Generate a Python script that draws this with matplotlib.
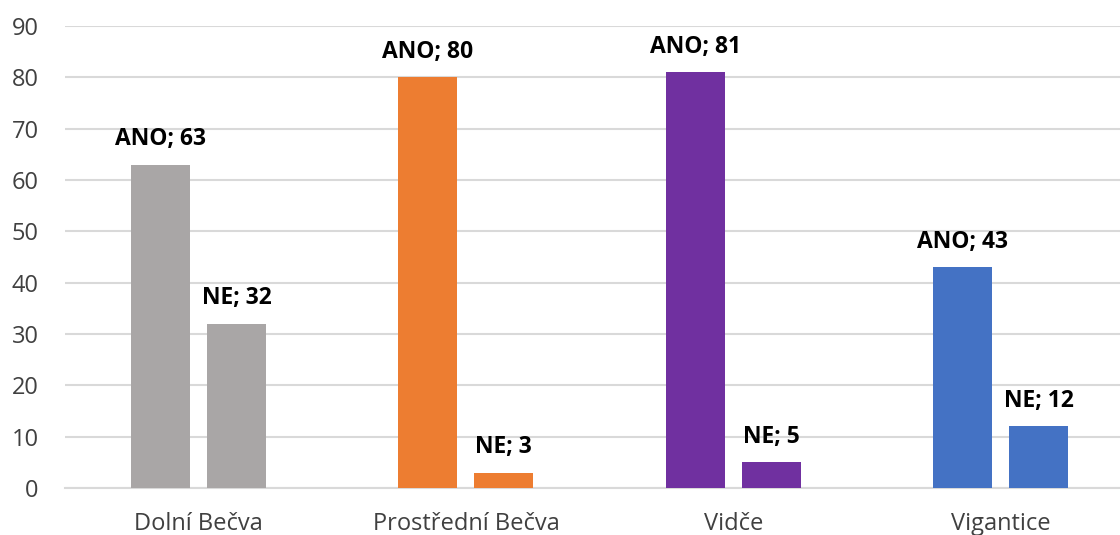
import matplotlib.pyplot as plt
import numpy as np

plt.rcParams['font.family'] = ['Open Sans', 'DejaVu Sans']

obce = ['Dolní Bečva', 'Prostřední Bečva', 'Vidče', 'Vigantice']
ano = [63, 80, 81, 43]
ne = [32, 3, 5, 12]
barvy = ['#A9A6A6', '#ED7D31', '#7030A0', '#4472C4']

fig = plt.figure(figsize=(11.2, 5.35), dpi=100)
ax = fig.add_axes([0.058, 0.0879, 0.942, 0.8636])

x = np.arange(len(obce))
w = 0.221
off = 0.142

b1 = ax.bar(x - off, ano, width=w, color=barvy, zorder=3)
b2 = ax.bar(x + off, ne, width=w, color=barvy, zorder=3)

# popisky nad sloupci
for rect, v in zip(b1, ano):
    ax.annotate(f'ANO; {v}', (rect.get_x() + rect.get_width() / 2, v),
                xytext=(0, 14), textcoords='offset points', ha='center', va='baseline',
                fontsize=16.5, fontweight='bold', color='black')
for rect, v in zip(b2, ne):
    ax.annotate(f'NE; {v}', (rect.get_x() + rect.get_width() / 2, v),
                xytext=(0, 14), textcoords='offset points', ha='center', va='baseline',
                fontsize=16.5, fontweight='bold', color='black')

ax.set_xlim(-0.5, 3.447)
ax.set_ylim(0, 90)
ax.set_yticks(range(0, 91, 10))
ax.set_xticks(x)
ax.set_xticklabels(obce)
ax.tick_params(axis='both', length=0, labelsize=17, colors='#404040')
ax.tick_params(axis='y', pad=19)
ax.tick_params(axis='x', pad=17)

ax.grid(axis='y', color='#D9D9D9', linewidth=1.5, zorder=0)
for s in ['top', 'right', 'left']:
    ax.spines[s].set_visible(False)
ax.spines['bottom'].set_color('#D9D9D9')
ax.spines['bottom'].set_linewidth(1.5)

fig.savefig('out.png', dpi=100)
